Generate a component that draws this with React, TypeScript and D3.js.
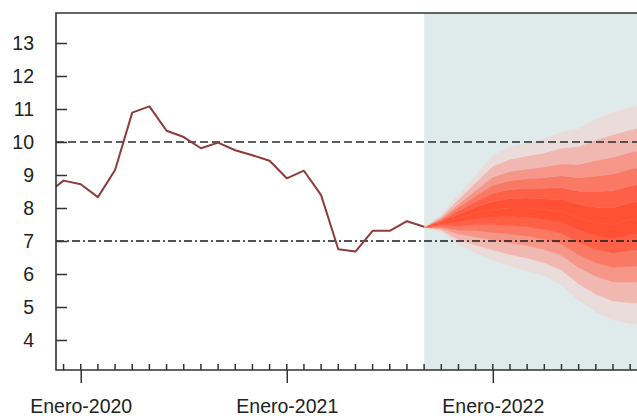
import * as d3 from "d3";
import { useEffect, useRef } from "react";

// observed series (monthly)
const histMonths = [
  "2019-11", "2019-12", "2020-01", "2020-02", "2020-03", "2020-04", "2020-05",
  "2020-06", "2020-07", "2020-08", "2020-09", "2020-10", "2020-11", "2020-12",
  "2021-01", "2021-02", "2021-03", "2021-04", "2021-05", "2021-06", "2021-07",
  "2021-08", "2021-09",
];
const histValues = [
  8.43, 8.83, 8.72, 8.33, 9.15, 10.89, 11.08, 10.34, 10.15, 9.81, 9.98, 9.75,
  9.6, 9.43, 8.9, 9.13, 8.39, 6.75, 6.68, 7.31, 7.31, 7.6, 7.43,
];

// forecast fan (quantiles)
const fcMonths = [
  "2021-09", "2021-10", "2021-11", "2021-12", "2022-01", "2022-02", "2022-03",
  "2022-04", "2022-05", "2022-06", "2022-07", "2022-08", "2022-09", "2022-10",
];
const median = [7.42, 7.55, 7.7, 7.85, 7.95, 8.0, 8.0, 7.95, 7.9, 7.7, 7.55, 7.5, 7.65, 7.75];
const upper1 = [7.42, 7.59, 7.81, 8.02, 8.2, 8.28, 8.3, 8.27, 8.26, 8.11, 8.02, 8.01, 8.16, 8.26];
const upper2 = [7.42, 7.63, 7.91, 8.2, 8.45, 8.56, 8.59, 8.6, 8.62, 8.51, 8.5, 8.52, 8.67, 8.77];
const upper3 = [7.42, 7.66, 8.02, 8.37, 8.69, 8.83, 8.89, 8.92, 8.98, 8.92, 8.97, 9.03, 9.18, 9.28];
const upper4 = [7.42, 7.7, 8.12, 8.54, 8.94, 9.11, 9.18, 9.24, 9.34, 9.32, 9.44, 9.54, 9.69, 9.79];
const upper5 = [7.42, 7.75, 8.26, 8.77, 9.27, 9.48, 9.58, 9.67, 9.82, 9.86, 10.07, 10.22, 10.37, 10.47];
const upper6 = [7.42, 7.8, 8.4, 9.0, 9.6, 9.85, 9.97, 10.1, 10.3, 10.4, 10.7, 10.9, 11.05, 11.15];
const lower1 = [7.42, 7.51, 7.58, 7.67, 7.72, 7.74, 7.72, 7.65, 7.57, 7.33, 7.15, 7.07, 7.18, 7.26];
const lower2 = [7.42, 7.47, 7.45, 7.49, 7.49, 7.47, 7.43, 7.35, 7.23, 6.95, 6.74, 6.63, 6.71, 6.76];
const lower3 = [7.42, 7.42, 7.33, 7.31, 7.26, 7.21, 7.15, 7.05, 6.9, 6.58, 6.34, 6.2, 6.23, 6.27];
const lower4 = [7.42, 7.38, 7.21, 7.12, 7.03, 6.94, 6.86, 6.74, 6.56, 6.2, 5.93, 5.76, 5.76, 5.77];
const lower5 = [7.42, 7.33, 7.04, 6.88, 6.73, 6.59, 6.48, 6.34, 6.12, 5.7, 5.39, 5.18, 5.13, 5.11];
const lower6 = [7.42, 7.27, 6.88, 6.64, 6.42, 6.24, 6.1, 5.94, 5.67, 5.2, 4.85, 4.6, 4.5, 4.45];

const yTicks = [4, 5, 6, 7, 8, 9, 10, 11, 12, 13];
const xTickMonths = ["2020-01", "2021-01", "2022-01"];
const xTickLabels = ["Enero-2020", "Enero-2021", "Enero-2022"];
const refUpper = 10;
const refLower = 7;

const W = 637;
const H = 416;
const FONT = "'Liberation Sans', Arial, sans-serif";

const monthIdx = (s: string) => {
  const [y, m] = s.split("-").map(Number);
  return (y - 2020) * 12 + (m - 1);
};

const App = () => {
  const ref = useRef<SVGSVGElement | null>(null);

  useEffect(() => {
    const svg = d3.select(ref.current);
    svg.selectAll("*").remove();

    const left = 56, top = 13, bottom = 370, right = 700;
    const x = d3.scaleLinear().domain([-1.44, 36]).range([left, left + 37.44 * 17.17]);
    const y = d3.scaleLinear().domain([4, 13]).range([340, 43]);

    svg.append("rect").attr("width", W).attr("height", H).attr("fill", "#fff");

    svg.append("defs").append("clipPath").attr("id", "plotclip")
      .append("rect").attr("x", left).attr("y", top)
      .attr("width", right - left).attr("height", bottom - top);

    const plot = svg.append("g").attr("clip-path", "url(#plotclip)");

    // forecast period shading
    const fx0 = x(monthIdx(fcMonths[0]));
    plot.append("rect")
      .attr("x", fx0).attr("y", top)
      .attr("width", right - fx0).attr("height", bottom - top)
      .attr("fill", "#dfebea");

    // fan bands
    const qs = [lower6, lower5, lower4, lower3, lower2, lower1, median,
      upper1, upper2, upper3, upper4, upper5, upper6];
    const fcX = fcMonths.map(monthIdx);
    const color = d3.interpolateRgb("#ff5034", "#ebdcdc");
    const area = d3.area<number>()
      .x((_, i) => x(fcX[i]));
    for (let b = 0; b < qs.length - 1; b++) {
      const lo = qs[b], hi = qs[b + 1];
      const level = b < 6 ? 6 - b : b - 5; // 1 = innermost
      const c = color(Math.pow((level - 1) / 5, 1.35));
      plot.append("path")
        .attr("d", area.y0((i) => y(lo[i])).y1((i) => y(hi[i]))(d3.range(fcX.length)))
        .attr("fill", c)
        .attr("stroke", c)
        .attr("stroke-width", 0.5);
    }

    // reference lines
    plot.append("line")
      .attr("x1", left).attr("x2", right)
      .attr("y1", y(refUpper)).attr("y2", y(refUpper))
      .attr("stroke", "#2b2b2b").attr("stroke-width", 1.4)
      .attr("stroke-dasharray", "8,4");
    plot.append("line")
      .attr("x1", left).attr("x2", right)
      .attr("y1", y(refLower)).attr("y2", y(refLower))
      .attr("stroke", "#1a1a1a").attr("stroke-width", 1.4)
      .attr("stroke-dasharray", "8,3,2,3");

    // observed line
    const line = d3.line<number>()
      .x((_, i) => x(monthIdx(histMonths[i])))
      .y((d) => y(d));
    plot.append("path")
      .attr("d", line(histValues))
      .attr("fill", "none")
      .attr("stroke", "#8e3b3b")
      .attr("stroke-width", 2)
      .attr("stroke-linejoin", "round");

    // y axis
    const yAxis = svg.append("g")
      .attr("transform", `translate(${left},0)`)
      .call(d3.axisLeft(y).tickValues(yTicks).tickSize(-11).tickPadding(22));
    yAxis.select(".domain").remove();
    yAxis.selectAll("line").attr("stroke", "#333").attr("stroke-width", 1.5);
    yAxis.selectAll("text")
      .attr("font-family", FONT).attr("font-size", 19.5).attr("fill", "#222");

    // x axis: monthly minor ticks pointing up (inside the plot)
    const minor = d3.range(-1, 36);
    svg.append("g")
      .selectAll("line")
      .data(minor)
      .enter()
      .append("line")
      .attr("x1", (d) => x(d))
      .attr("x2", (d) => x(d))
      .attr("y1", bottom)
      .attr("y2", bottom - 6)
      .attr("stroke", "#333")
      .attr("stroke-width", 1.5);

    // x axis: yearly major ticks with labels
    const xMajor = svg.append("g")
      .attr("transform", `translate(0,${bottom})`)
      .call(d3.axisBottom(x)
        .tickValues(xTickMonths.map(monthIdx))
        .tickSize(13)
        .tickPadding(16)
        .tickFormat((_, i) => xTickLabels[i]));
    xMajor.select(".domain").remove();
    xMajor.selectAll("line").attr("stroke", "#333").attr("stroke-width", 1.5);
    xMajor.selectAll("text")
      .attr("font-family", FONT).attr("font-size", 19.5).attr("fill", "#222");

    // box (left, top, bottom)
    svg.append("path")
      .attr("d", `M${W},${top}H${left}V${bottom}H${W}`)
      .attr("fill", "none")
      .attr("stroke", "#333")
      .attr("stroke-width", 1.6);
  }, []);

  return (
    <svg
      ref={ref}
      width={W}
      height={H}
      style={{ position: "absolute", left: 0, top: 0, display: "block" }}
    />
  );
};

export default App;
